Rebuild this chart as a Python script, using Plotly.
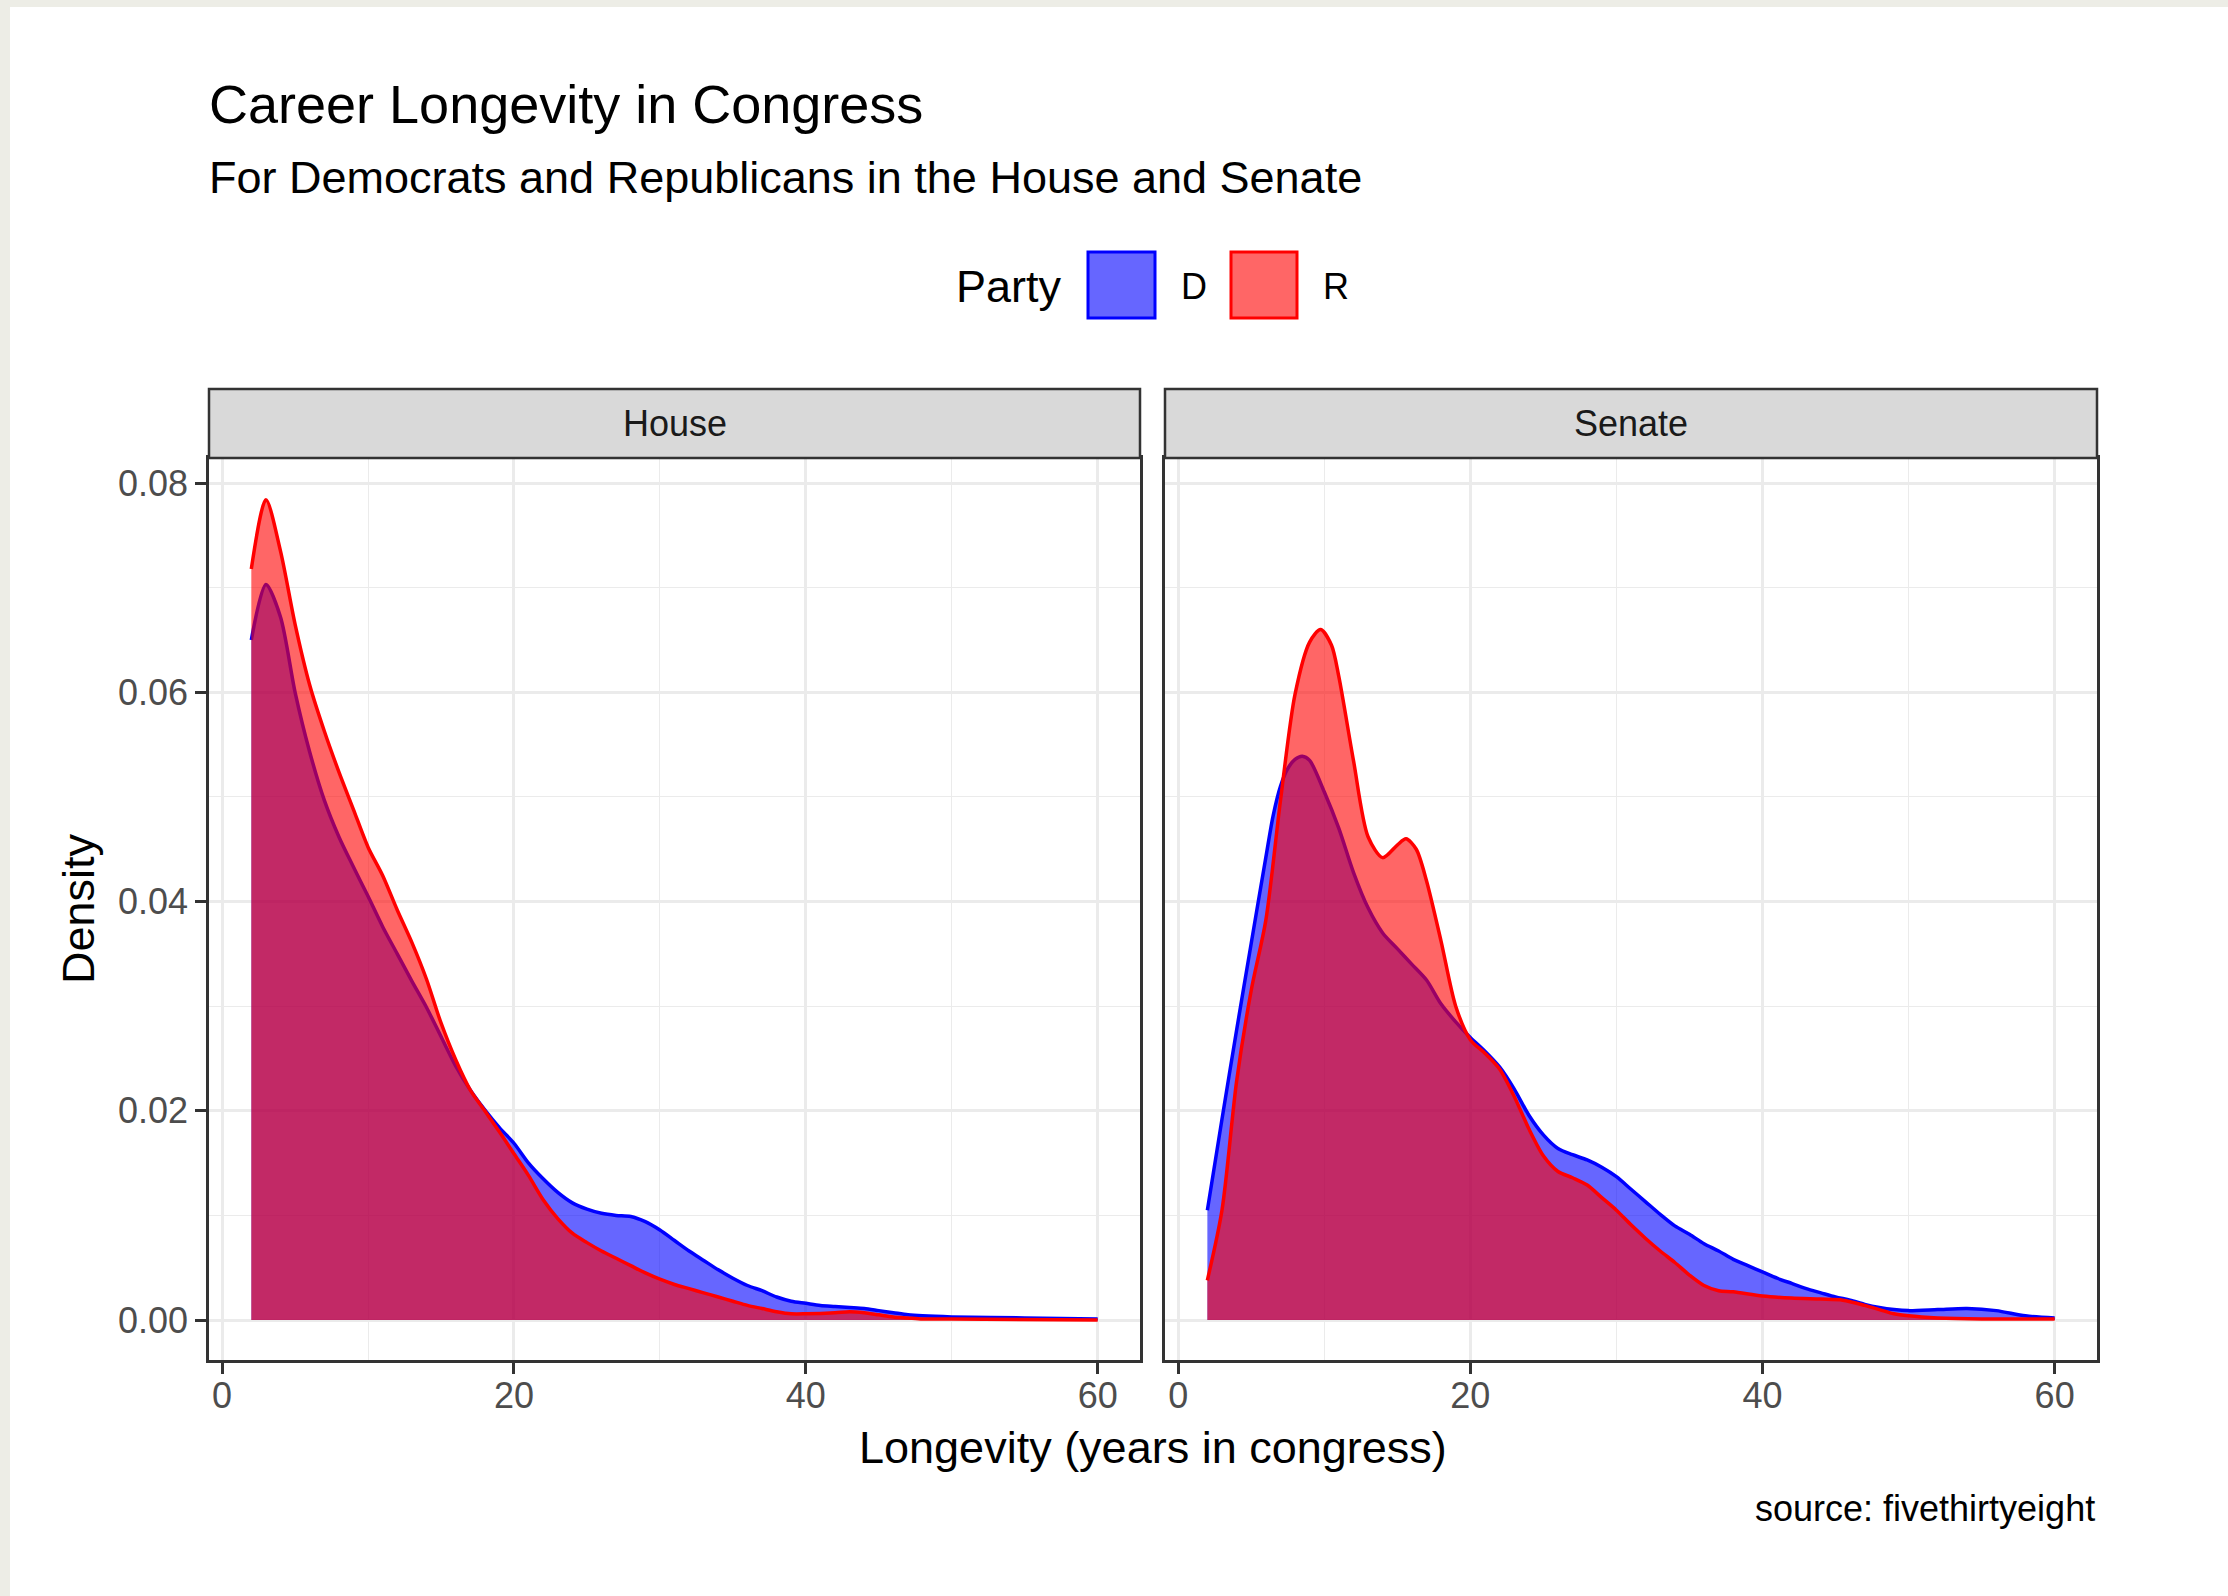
import plotly.graph_objects as go

W, H = 2228, 1596

# density curves
house_d_x = [2, 3, 4, 5, 6, 7, 8, 9, 10, 11, 12, 13, 14, 15, 16, 17, 18, 19, 20, 21, 22, 23, 24, 25,
             26, 27, 28, 29, 30, 31, 32, 33, 34, 35, 36, 37, 38, 39, 40, 41, 42, 43, 44, 45, 46, 47,
             48, 50, 55, 60]
house_d_y = [0.0650, 0.0703, 0.0672, 0.0600, 0.0543, 0.0497, 0.0462, 0.0433, 0.0405, 0.0376, 0.0350,
             0.0324, 0.0299, 0.0271, 0.0243, 0.0220, 0.0201, 0.0184, 0.0169, 0.0150, 0.0135, 0.0122,
             0.0112, 0.0106, 0.0102, 0.0100, 0.0099, 0.0094, 0.0086, 0.0076, 0.0066, 0.0057, 0.0048,
             0.0040, 0.0033, 0.0028, 0.0022, 0.0018, 0.0016, 0.0014, 0.0013, 0.0012, 0.0011, 0.0009,
             0.0007, 0.0005, 0.0004, 0.0003, 0.0002, 0.0001]

house_r_x = [2, 3, 4, 5, 6, 7, 8, 9, 10, 11, 12, 13, 14, 15, 16, 17, 18, 19, 20, 21, 22, 23, 24, 25,
             26, 27, 28, 29, 30, 31, 32, 33, 34, 35, 36, 37, 38, 39, 40, 42, 43, 44, 45, 46, 47, 48,
             50, 60]
house_r_y = [0.0718, 0.0784, 0.0735, 0.0665, 0.0607, 0.0563, 0.0524, 0.0488, 0.0452, 0.0425, 0.0392,
             0.0361, 0.0326, 0.0284, 0.0249, 0.0220, 0.0200, 0.0180, 0.0159, 0.0138, 0.0115, 0.0097,
             0.0083, 0.0074, 0.0066, 0.0059, 0.0052, 0.0045, 0.0039, 0.0034, 0.0030, 0.0026, 0.0022,
             0.0018, 0.0014, 0.0011, 0.0008, 0.0006, 0.0006, 0.0007, 0.0008, 0.0007, 0.0005, 0.0003,
             0.0002, 0.0001, 0.0001, 0.0000]

senate_d_x = [2, 3, 4, 5, 6, 6.5, 7, 7.5, 8, 8.5, 9, 10, 11, 12, 13, 14, 15, 16, 17, 18, 19, 20, 21,
              22, 23, 24, 25, 26, 27, 28, 29, 30, 31, 32, 33, 34, 35, 36, 37, 38, 39, 40, 41, 42, 43,
              44, 45, 46, 47, 48, 49, 50, 52, 54, 56, 58, 60]
senate_d_y = [0.0105, 0.0192, 0.0277, 0.0360, 0.0442, 0.0482, 0.0510, 0.0527, 0.0536, 0.0539, 0.0535,
              0.0505, 0.0470, 0.0428, 0.0394, 0.0370, 0.0355, 0.0340, 0.0325, 0.0302, 0.0285, 0.0270,
              0.0257, 0.0242, 0.0221, 0.0196, 0.0177, 0.0164, 0.0158, 0.0153, 0.0146, 0.0137, 0.0125,
              0.0113, 0.0101, 0.0090, 0.0082, 0.0073, 0.0066, 0.0058, 0.0052, 0.0046, 0.0040, 0.0035,
              0.0030, 0.0026, 0.0022, 0.0019, 0.0015, 0.0012, 0.0010, 0.0009, 0.0010, 0.0011, 0.0009,
              0.0004, 0.0002]

senate_r_x = [2, 3, 4, 5, 6, 7, 8, 9, 9.75, 10.5, 11, 12, 13, 14, 15, 15.6, 16.3, 17, 18, 19, 20, 21,
              22, 23, 24, 25, 26, 27, 28, 29, 30, 31, 32, 33, 34, 35, 36, 37, 38, 40, 42, 44, 45.5,
              47, 48, 49, 50, 52, 55, 60]
senate_r_y = [0.0038, 0.0105, 0.0228, 0.0315, 0.0382, 0.0496, 0.0598, 0.0648, 0.0660, 0.0645, 0.0615,
              0.0535, 0.0462, 0.0442, 0.0454, 0.0460, 0.0450, 0.0420, 0.0362, 0.0300, 0.0268, 0.0255,
              0.0240, 0.0214, 0.0183, 0.0157, 0.0142, 0.0136, 0.0129, 0.0117, 0.0105, 0.0091, 0.0078,
              0.0066, 0.0055, 0.0043, 0.0033, 0.0028, 0.0027, 0.0023, 0.0021, 0.0020, 0.0019, 0.0014,
              0.0010, 0.0006, 0.0004, 0.0002, 0.0001, 0.0001]

chamber_names = ["House", "Senate"]
party_names = ["D", "R"]
x_ticks = [0, 20, 40, 60]
y_ticks = [0.00, 0.02, 0.04, 0.06, 0.08]

FONT = "Liberation Sans, Arial, Helvetica, sans-serif"
line_col = {"D": "#0000FF", "R": "#FF0000"}
fill_col = {"D": "rgba(0,0,255,0.6)", "R": "rgba(255,0,0,0.6)"}


def px(x):
    return x / W


def py(y):
    return 1 - y / H


panel_x = [(209, 1140), (1165, 2097)]
panel_top, panel_bot = 458, 1360
strip_top = 389

fig = go.Figure()

series = [
    ("x", "y", "D", house_d_x, house_d_y),
    ("x", "y", "R", house_r_x, house_r_y),
    ("x2", "y2", "D", senate_d_x, senate_d_y),
    ("x2", "y2", "R", senate_r_x, senate_r_y),
]
for xa, ya, party, xs, ys in series:
    fig.add_trace(go.Scatter(
        x=xs, y=ys, xaxis=xa, yaxis=ya, mode="lines",
        line=dict(color=line_col[party], width=3.5, shape="spline", smoothing=0.8),
        fill="tozeroy", fillcolor=fill_col[party],
        showlegend=False, hoverinfo="skip",
    ))

axis_common = dict(
    showline=True, mirror=True, linecolor="#333333", linewidth=2.5,
    showgrid=True, gridcolor="#EBEBEB", gridwidth=2.5, zeroline=False,
    ticks="outside", ticklen=11, tickwidth=2.5, tickcolor="#333333",
    tickfont=dict(family=FONT, size=36, color="#4D4D4D"),
)
minor_x = dict(dtick=10, tick0=0, showgrid=True, gridcolor="#EBEBEB", gridwidth=1.3, ticks="")
minor_y = dict(dtick=0.01, tick0=0, showgrid=True, gridcolor="#EBEBEB", gridwidth=1.3, ticks="")

xrange = [-0.9, 62.9]
yrange = [-0.00382, 0.0824]

fig.update_layout(
    xaxis=dict(domain=[px(panel_x[0][0]), px(panel_x[0][1])], range=xrange,
               tickvals=x_ticks, anchor="y", ticklabelstandoff=-9, minor=minor_x, **axis_common),
    xaxis2=dict(domain=[px(panel_x[1][0]), px(panel_x[1][1])], range=xrange,
                tickvals=x_ticks, anchor="y2", ticklabelstandoff=-9, minor=minor_x, **axis_common),
    yaxis=dict(domain=[py(panel_bot), py(panel_top)], range=yrange,
               tickvals=y_ticks, tickformat=".2f", anchor="x", minor=minor_y, **axis_common),
    yaxis2=dict(domain=[py(panel_bot), py(panel_top)], range=yrange, matches="y",
                tickvals=y_ticks, anchor="x2", showticklabels=False, minor=minor_y,
                **{**axis_common, "ticks": ""}),
    width=W, height=H,
    margin=dict(l=0, r=0, t=0, b=0),
    paper_bgcolor="white", plot_bgcolor="white",
    showlegend=False,
    font=dict(family=FONT, color="black"),
)

shapes = []
# light frame on top and left edges of the image
shapes.append(dict(type="rect", xref="paper", yref="paper", x0=0, x1=px(10), y0=0, y1=1,
                   fillcolor="#EDEDE6", line=dict(width=0), layer="below"))
shapes.append(dict(type="rect", xref="paper", yref="paper", x0=0, x1=1, y0=py(7), y1=1,
                   fillcolor="#EDEDE6", line=dict(width=0), layer="below"))

annotations = []
# facet strips
for (x0, x1), name in zip(panel_x, chamber_names):
    shapes.append(dict(type="rect", xref="paper", yref="paper",
                       x0=px(x0), x1=px(x1), y0=py(panel_top), y1=py(strip_top),
                       fillcolor="#D9D9D9", line=dict(color="#333333", width=2.5)))
    annotations.append(dict(text=name, xref="paper", yref="paper", x=px((x0 + x1) / 2),
                            y=py((strip_top + panel_top) / 2), xanchor="center", yanchor="middle",
                            showarrow=False, font=dict(family=FONT, size=36, color="#1A1A1A")))

# legend
annotations.append(dict(text="Party", xref="paper", yref="paper", x=px(1064), y=py(286),
                        xanchor="right", yanchor="middle", showarrow=False,
                        font=dict(family=FONT, size=45, color="black")))
key_boxes = [(1088, 1155), (1231, 1297)]
key_text_x = [1194, 1336]
for party, (k0, k1), tx in zip(party_names, key_boxes, key_text_x):
    shapes.append(dict(type="rect", xref="paper", yref="paper", x0=px(k0), x1=px(k1),
                       y0=py(318), y1=py(252), fillcolor=fill_col[party],
                       line=dict(color=line_col[party], width=3)))
    annotations.append(dict(text=party, xref="paper", yref="paper", x=px(tx), y=py(286),
                            xanchor="center", yanchor="middle", showarrow=False,
                            font=dict(family=FONT, size=36, color="black")))

# titles
annotations.append(dict(text="Career Longevity in Congress", xref="paper", yref="paper",
                        x=px(207), y=py(104), xanchor="left", yanchor="middle", showarrow=False,
                        font=dict(family=FONT, size=54, color="black")))
annotations.append(dict(text="For Democrats and Republicans in the House and Senate", xref="paper",
                        yref="paper", x=px(207), y=py(178), xanchor="left", yanchor="middle",
                        showarrow=False, font=dict(family=FONT, size=45, color="black")))
annotations.append(dict(text="Longevity (years in congress)", xref="paper", yref="paper",
                        x=px(1153), y=py(1447), xanchor="center", yanchor="middle", showarrow=False,
                        font=dict(family=FONT, size=45, color="black")))
annotations.append(dict(text="Density", xref="paper", yref="paper", x=px(78), y=py(909),
                        xanchor="center", yanchor="middle", textangle=-90, showarrow=False,
                        font=dict(family=FONT, size=45, color="black")))
annotations.append(dict(text="source: fivethirtyeight", xref="paper", yref="paper",
                        x=px(2097), y=py(1508), xanchor="right", yanchor="middle", showarrow=False,
                        font=dict(family=FONT, size=36, color="black")))

fig.update_layout(shapes=shapes, annotations=annotations)

# drop the browser's default body margin so the figure sits flush with the page
fig.write_html("out.html", config={"displayModeBar": False},
               post_script="document.body.style.margin='0px';")
